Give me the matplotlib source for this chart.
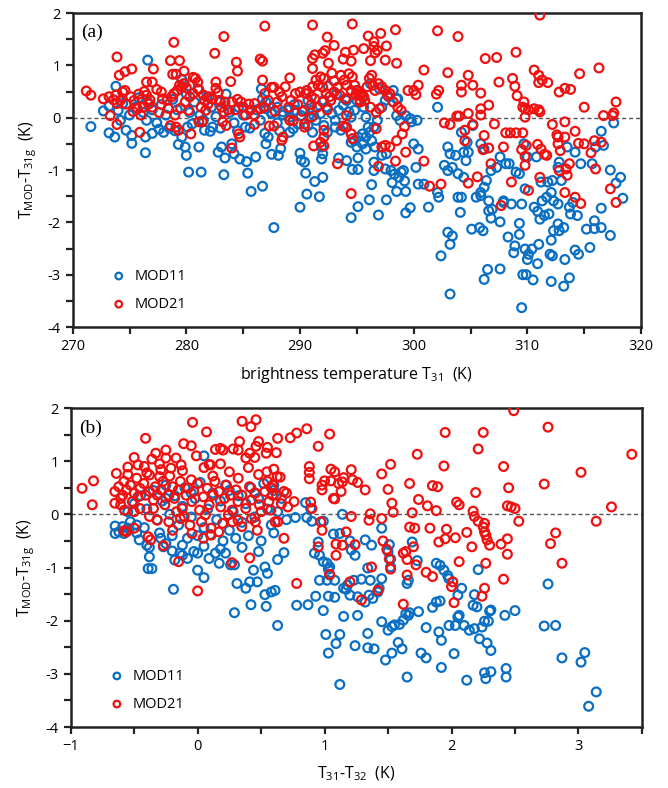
import numpy as np
import matplotlib
matplotlib.use("Agg")
import matplotlib.pyplot as plt

plt.rcParams['font.family'] = ['Open Sans', 'DejaVu Sans']
plt.rcParams['mathtext.fontset'] = 'custom'
plt.rcParams['mathtext.rm'] = 'Open Sans'
plt.rcParams['mathtext.it'] = 'Open Sans'

# ---- panel (a): brightness temperature T31 (K) vs T_MOD - T_31g (K)
a_mod11 = [
    (271.6,-0.17),(272.7,0.13),(273.2,0.22),(273.8,0.60),(274.0,0.14),(274.4,0.27),(273.2,-0.29),(273.7,-0.37),
    (274.7,-0.24),(275.2,-0.34),(275.2,-0.49),(276.4,-0.67),(276.4,-0.37),(276.6,1.10),(274.2,-0.05),(275.0,0.05),
    (275.5,0.20),(275.8,0.38),(276.2,0.10),(276.5,-0.05),(276.6,0.30),(277.0,0.15),(277.4,-0.10),(277.8,0.25),
    (278.2,0.05),(278.5,-0.20),(278.8,0.35),(279.2,0.15),(279.6,0.73),(279.8,0.65),(280.0,0.45),(280.3,0.10),
    (280.7,0.30),(281.0,0.55),(281.2,0.05),(281.5,-0.05),(281.8,0.40),(282.2,0.20),(282.6,0.02),(283.0,0.30),
    (283.5,0.45),(283.8,0.10),(284.2,-0.10),(284.6,0.20),(285.0,0.05),(285.6,-0.20),(286.2,0.15),(286.6,0.55),
    (287.0,0.30),(287.5,0.10),(288.0,-0.10),(288.5,0.05),(289.0,0.15),(289.5,0.25),(277.0,-0.30),(277.6,-0.22),
    (278.0,-0.28),(279.0,-0.25),(279.3,-0.51),(279.9,-0.56),(279.6,-0.37),(280.1,-0.18),(280.5,-0.12),(281.1,-0.56),
    (280.2,-1.04),(281.3,-1.04),(280.0,-0.72),(281.6,-0.24),(282.1,-0.26),(282.3,-0.18),(282.8,-0.66),(283.1,-0.56),
    (283.4,-0.77),(283.3,-1.09),(284.0,-0.50),(284.2,-0.69),(284.7,-0.79),(285.3,-0.84),(286.1,-0.75),(285.4,-1.06),
    (285.7,-1.41),(286.7,-1.31),(287.7,-2.10),(287.0,-0.50),(287.2,-0.37),(287.5,-0.70),(288.1,-0.72),(288.3,-0.59),
    (289.1,-0.28),(289.4,-0.21),(289.8,-0.12),(283.0,-0.20),(284.5,-0.25),(285.2,-0.18),(286.5,-0.05),(286.9,-0.30),
    (288.2,-0.25),
    (290.0,-0.68),(290.1,-0.81),(290.4,-0.85),(290.5,-1.06),(290.0,-1.71),(290.6,-1.46),(291.3,-1.22),(291.7,-1.51),
    (292.0,-1.14),(291.9,-0.79),(292.0,-0.69),(291.9,-0.56),(293.4,-0.77),(294.1,-0.82),(295.1,-0.77),(295.1,-0.99),
    (294.6,-0.99),(294.5,-1.91),(295.1,-1.70),(296.1,-1.57),(296.3,-1.28),(296.5,-1.01),(296.5,-0.85),(296.9,-1.86),
    (297.6,-1.57),(297.5,-0.98),(298.0,-1.01),(298.1,-1.24),(298.3,-1.08),(298.5,-1.41),(298.7,-1.14),(298.9,-1.04),
    (299.1,-1.01),(299.2,-1.21),(299.3,-1.41),(299.3,-1.82),(299.7,-1.72),(298.6,0.36),(300.0,-0.50),(300.4,-0.60),
    (300.2,-0.95),(300.4,-1.27),(300.9,-1.27),(301.3,-1.71),
    (290.7,0.33),(291.1,0.14),(291.2,0.04),(291.4,-0.05),(291.8,0.08),(292.1,0.33),(292.4,0.20),(292.8,0.08),
    (293.1,-0.05),(293.4,0.14),(293.8,0.24),(294.1,0.33),(294.3,0.11),(294.5,0.01),(294.8,0.14),(295.0,0.33),
    (295.1,0.52),(295.5,0.40),(295.6,0.20),(295.8,0.01),(296.0,-0.18),(295.5,-0.31),(295.1,-0.37),(294.8,-0.44),
    (295.8,-0.37),(296.1,-0.28),(296.5,-0.18),(296.8,-0.05),(297.2,0.20),(297.5,0.33),(297.8,0.40),(298.2,0.52),
    (298.5,0.36),(294.1,-0.18),(293.6,-0.24),(293.1,-0.18),(292.4,-0.28),(292.1,-0.15),(291.1,-0.28),(290.7,-0.15),
    (294.5,-0.47),(295.0,-0.56),(295.5,-0.50),(295.8,-0.60),(296.3,-0.44),(296.6,-0.56),(297.2,-0.72),(297.6,-0.69),
    (290.4,0.14),(290.1,0.04),(289.6,0.14),(289.1,0.01),(288.5,0.11),(288.0,0.20),(287.5,0.08),(287.0,0.17),
    (286.7,0.36),(298.5,0.04),(298.8,-0.05),(299.3,0.04),(299.7,-0.02),(299.8,-0.08),(300.3,-0.05),(292.5,0.60),
    (293.2,0.45),(296.2,0.65),(297.0,0.55),
    (302.1,0.20),(303.0,-0.56),(302.7,-0.91),(303.0,-1.01),(303.4,-0.95),(303.2,-0.69),(303.9,-1.07),(304.4,-1.14),
    (304.6,-0.82),(304.2,-1.52),(304.1,-1.81),(303.9,-1.52),(302.1,-1.43),(302.2,-1.52),(303.0,-2.19),(303.4,-2.26),
    (303.2,-2.42),(302.4,-2.64),(303.2,-3.37),(304.2,-0.28),(304.8,-0.66),(305.2,-0.15),(304.7,-0.47),(305.9,-0.50),
    (306.2,-0.60),(306.8,-1.01),(306.4,-1.20),(306.2,-1.33),(305.9,-1.43),(305.5,-1.52),(306.6,-1.78),(306.9,-1.75),
    (306.8,-1.92),(307.6,-1.99),(307.9,-1.62),(307.3,-0.95),(307.6,-0.75),(308.1,-0.88),(305.1,-2.13),(305.8,-2.10),
    (306.1,-2.16),(306.5,-2.90),(306.2,-3.09),(307.6,-2.89),(308.3,-2.28),(308.9,-2.45),(308.8,-2.58),(309.3,-2.23),
    (309.3,-2.02),(309.5,-1.65),(309.0,-1.04),(309.7,-0.50),(310.0,-0.75),(310.8,-0.75),(309.8,-2.51),(310.1,-2.61),
    (310.0,-2.71),(310.4,-2.51),(309.6,-3.00),(309.9,-3.00),(310.5,-3.10),(309.5,-3.63),(310.9,-2.79),(311.0,-2.42),
    (310.6,-1.71),(311.1,-1.94),(310.9,-1.79),(311.2,-1.23),(311.3,-1.59),(311.7,-1.52),(311.8,-1.23),(312.2,-1.20),
    (312.1,-1.43),(311.9,-1.84),(311.5,-1.87),(312.3,-1.59),(312.7,-1.65),(312.8,-0.85),(312.7,-0.95),(313.0,-1.20),
    (312.1,-2.34),(312.3,-2.16),(312.7,-2.03),(312.8,-2.16),(313.2,-2.10),(312.2,-2.64),(312.0,-2.61),(313.3,-2.71),
    (313.7,-3.06),(313.2,-3.22),(312.1,-3.13),(313.7,-1.71),(314.0,-1.62),(313.8,-1.84),(314.4,-1.87),(314.2,-2.53),
    (314.5,-2.61),(315.2,-2.13),(315.9,-1.97),(315.5,-2.48),(315.9,-2.12),(316.5,-2.10),(317.3,-2.25),(316.5,-1.73),
    (313.5,-0.56),(314.2,-0.66),(314.7,-0.88),(316.0,-0.56),(315.7,-0.88),(316.7,-0.53),(316.5,-0.26),(317.6,-0.10),
    (317.3,-1.00),(318.2,-1.14),(317.8,-1.25),(318.4,-1.54),(308.4,-0.88),(309.3,-1.07),(309.8,-1.36),(307.9,-1.59),
    (308.6,-1.65),(306.6,-1.59),(305.9,-1.49),(304.4,-0.66),(303.7,-0.72),
]

a_mod21 = [
    (311.1,1.96),(286.9,1.75),(291.1,1.77),(294.6,1.79),(302.1,1.66),(303.9,1.55),(298.4,1.68),(297.1,1.61),
    (296.0,1.56),(292.4,1.54),(283.3,1.55),(278.9,1.44),(293.0,1.38),(296.5,1.45),(296.5,1.36),(297.6,1.37),
    (296.6,1.24),(296.8,1.29),(295.6,1.32),(294.7,1.29),(294.0,1.25),(292.2,1.28),(292.0,1.23),(291.3,1.20),
    (291.1,1.13),(282.5,1.23),(309.0,1.25),(306.3,1.13),(307.3,1.15),(273.9,1.16),(278.6,1.09),(279.4,1.09),
    (284.4,1.06),(286.7,1.08),(286.5,1.12),(294.5,1.08),(293.8,1.12),(296.2,1.09),(297.5,1.10),(298.5,1.04),
    (292.5,1.04),(291.1,0.94),(275.2,0.93),(274.6,0.88),(274.1,0.81),(277.1,0.93),(278.8,0.83),(279.1,0.83),
    (279.8,0.89),(284.5,0.89),(300.9,0.91),(303.0,0.86),(310.6,0.91),(311.0,0.81),(311.3,0.72),(311.8,0.67),
    (311.0,0.67),(316.3,0.95),(314.6,0.84),(308.7,0.75),(308.9,0.60),(309.1,0.42),(307.5,0.68),(304.8,0.81),
    (304.2,0.62),(305.2,0.62),(304.2,0.49),(305.9,0.47),(312.8,0.49),(313.3,0.56),(313.8,0.54),(315.0,0.20),
    (317.8,0.30),(316.7,0.04),(317.5,0.04),(317.6,0.09),(309.6,0.20),(309.8,0.17),(310.1,0.15),(311.0,0.15),
    (311.1,0.11),(310.6,0.17),(309.7,0.30),(309.8,0.01),(302.2,0.52),(302.0,0.45),(300.4,0.62),(300.0,0.52),
    (300.2,0.44),(299.5,0.52),(305.9,0.17),(306.6,0.24),(304.8,0.08),(305.9,0.05),(303.8,0.03),(304.0,0.03),
    (302.7,-0.10),(303.2,-0.13),(305.2,-0.13),(307.1,-0.12),(304.5,-0.24),(308.1,-0.29),(308.5,-0.29),(309.0,-0.29),
    (309.6,-0.29),(306.2,-0.34),(312.2,-0.13),(313.3,-0.08),(312.6,-0.33),(312.7,-0.37),(313.3,-0.37),(314.2,-0.26),
    (315.9,-0.44),(316.5,-0.47),(314.5,-0.49),(315.0,-0.50),(315.6,-0.67),(310.9,-0.51),(311.2,-0.60),(311.5,-0.70),
    (311.7,-0.72),(312.7,-0.50),(312.9,-0.63),(309.9,-0.53),(309.8,-0.74),(309.5,-0.61),(307.9,-0.56),(306.6,-0.58),
    (306.1,-0.61),(304.5,-0.44),(306.8,-0.88),(309.8,-0.91),(312.8,-1.01),(313.4,-0.98),(313.7,-0.88),(313.5,-1.10),
    (316.0,-0.98),(311.1,-1.14),(308.6,-1.23),(305.6,-1.13),(304.8,-1.25),(310.1,-1.39),(313.3,-1.43),(314.2,-1.52),
    (314.7,-1.64),(317.3,-1.36),(317.8,-1.62),(307.7,-1.68),(302.4,-1.27),(301.4,-1.31),(300.9,-0.83),(299.3,-0.66),
    (299.2,-0.17),(299.0,-0.31),(298.5,-0.44),(298.4,-0.83),(297.5,-0.53),(297.2,-0.56),(297.9,-0.56),(296.9,-0.93),
    (296.7,-0.21),(294.5,-1.45),(293.3,-0.88),(294.0,-0.18),(293.8,-0.16),(294.5,-0.31),(294.6,-0.40),(292.1,-0.24),
    (292.1,-0.37),(291.8,-0.47),(291.2,-0.54),(292.1,-0.54),(290.4,-0.12),(290.4,-0.18),(288.5,-0.37),(288.4,-0.43),
    (287.3,-0.16),(287.7,-0.16),(286.0,-0.13),(284.6,-0.31),(284.7,-0.37),(284.0,-0.58),(283.5,-0.15),(283.2,-0.08),
    (280.4,-0.31),(279.1,-0.18),(279.3,-0.24),(278.6,-0.15),(275.9,-0.28),(273.9,-0.13),(281.1,-0.08),(281.4,-0.08),
    (289.1,-0.05),(289.4,-0.06),
    (271.2,0.51),(271.6,0.43),(272.7,0.36),(273.2,0.40),(273.3,0.04),(273.8,0.43),(273.9,0.27),(274.4,0.49),
    (274.6,0.52),(275.1,0.40),(275.4,0.33),(275.7,0.17),(275.8,0.45),(276.1,0.36),(276.3,0.50),(276.5,0.43),
    (276.7,0.26),(276.2,0.20),(277.0,0.68),(276.5,0.68),(276.8,0.34),(277.4,0.54),(277.8,0.49),(277.9,0.36),
    (278.3,0.33),(278.7,0.40),(278.9,0.46),(279.2,0.52),(279.6,0.59),(279.4,0.62),(279.8,0.65),(280.0,0.57),
    (279.9,0.30),(280.3,0.40),(280.6,0.46),(280.8,0.75),(281.0,0.68),(280.6,0.77),(281.1,0.54),(281.6,0.33),
    (281.7,0.14),(281.5,0.43),(282.0,0.40),(282.3,0.36),(282.6,0.68),(282.6,0.56),(282.9,0.33),(283.1,0.20),
    (283.3,0.11),(283.7,0.15),(283.9,0.69),(284.0,0.30),(284.5,0.35),(284.8,0.30),(285.0,0.20),(285.5,0.26),
    (285.6,0.14),(286.0,0.27),(286.5,0.17),(286.7,0.72),(286.9,0.46),(287.2,0.33),(287.5,0.58),(287.7,0.58),
    (288.2,0.49),(288.4,0.40),(288.7,0.59),(289.1,0.76),(289.2,0.33),(289.6,0.46),(290.0,0.49),(290.5,0.46),
    (290.6,0.52),(291.0,0.40),(291.3,0.36),(291.1,0.59),(291.4,0.72),(291.8,0.78),(292.1,0.75),(291.6,0.62),
    (292.0,0.58),(292.3,0.46),(292.6,0.40),(292.0,0.30),(291.5,0.20),(291.0,0.25),(292.8,0.85),(293.0,0.70),
    (293.3,0.58),(293.6,0.81),(293.9,0.72),(294.1,0.62),(294.3,0.84),(294.6,0.78),(294.8,0.62),(295.0,0.52),
    (295.2,0.43),(295.4,0.46),(295.6,0.40),(295.9,0.59),(296.1,0.75),(296.3,0.81),(296.4,0.62),(296.6,0.52),
    (296.9,0.65),(297.2,0.59),(297.5,0.52),(297.7,0.43),(297.9,0.46),(298.2,0.30),(298.6,0.20),(298.9,0.14),
    (294.5,0.52),(294.9,0.43),(295.3,0.33),(294.0,0.36),(293.5,0.43),(293.0,0.49),(292.7,0.33),(295.3,0.30),
    (295.7,0.33),(296.2,0.20),(296.7,0.10),(297.0,0.17),(294.1,0.04),(292.4,0.15),(291.0,0.01),(290.2,0.12),
    (289.8,0.25),(289.0,0.20),(288.0,0.30),(287.8,0.12),(286.8,0.20),(286.0,0.05),(285.2,0.05),(284.3,0.15),
    (283.4,0.30),(282.8,0.48),(281.9,0.26),(281.3,0.20),(280.2,0.14),(279.5,0.18),(279.0,0.05),(278.4,0.18),
    (277.6,0.10),(277.0,0.20),(276.0,0.05),(275.3,0.12),(274.7,0.26),(274.2,0.33),(273.6,0.34),
]

# ---- panel (b): T31 - T32 (K) vs T_MOD - T_31g (K)
b_mod11 = [
    (-0.65,-0.22),(-0.65,-0.36),(-0.62,-0.33),(-0.59,-0.23),(-0.58,-0.36),(-0.55,-0.26),(-0.53,-0.14),(-0.48,-0.20),
    (-0.46,-0.48),(-0.40,-0.58),(-0.38,-0.80),(-0.39,-1.02),(-0.36,-1.02),(-0.29,-0.45),(-0.27,-0.61),(-0.20,-0.69),
    (-0.18,-0.86),(-0.14,-0.73),(-0.12,-0.77),(-0.08,-0.83),(-0.19,-1.41),(-0.03,-0.70),(0.00,-1.05),(0.05,-1.19),
    (0.00,-0.73),(0.09,-0.83),(0.14,-0.73),(0.17,-0.92),(0.22,-0.73),(0.26,-0.95),(0.29,-0.95),(0.29,-1.85),
    (0.31,-1.30),(0.38,-1.39),(0.41,-1.27),(0.42,-1.70),(0.44,-1.05),(0.47,-1.27),(0.53,-0.99),(0.55,-1.11),
    (0.53,-1.51),(0.54,-1.73),(0.58,-1.46),(0.61,-1.43),(0.63,-2.09),(0.63,-0.85),(0.68,-0.72),
    (-0.55,0.05),(-0.50,0.20),(-0.45,0.35),(-0.40,0.10),(-0.35,0.45),(-0.32,-0.10),(-0.28,0.25),(-0.25,0.55),
    (-0.22,0.00),(-0.18,0.35),(-0.15,-0.20),(-0.12,0.15),(-0.10,0.50),(-0.05,-0.05),(-0.02,0.30),(0.02,0.60),
    (0.05,-0.25),(0.08,0.10),(0.12,0.40),(0.15,-0.10),(0.18,0.25),(0.22,0.55),(0.25,-0.30),(0.28,0.05),
    (0.32,0.35),(0.35,-0.15),(0.38,0.20),(0.42,0.50),(0.45,-0.05),(0.48,0.30),(0.52,0.58),(0.55,0.10),
    (0.58,-0.20),(0.60,0.45),(0.63,0.05),(0.66,0.30),(0.70,-0.10),(-0.48,-0.35),(-0.42,-0.25),(-0.30,-0.35),
    (-0.20,-0.40),(-0.08,-0.45),(0.00,-0.40),(0.10,-0.38),(0.20,-0.50),(0.30,-0.45),(0.40,-0.40),(0.50,-0.50),
    (0.60,-0.35),(-0.38,-0.62),(-0.25,-0.55),(-0.12,-0.58),(0.05,-0.60),(0.18,-0.65),(0.35,-0.62),(0.48,-0.70),
    (-0.25,0.30),(-0.05,0.40),(0.25,0.45),(0.45,0.40),(0.60,0.55),
    (0.05,1.10),(1.14,0.00),(0.89,0.11),(0.85,0.22),(0.77,-0.06),(0.86,-0.06),(0.90,-0.13),(0.99,-0.13),
    (0.95,-0.52),(0.92,-0.73),(0.96,-0.77),(0.99,-0.89),(1.02,-0.92),(1.03,-1.03),(1.04,-0.99),(1.04,-1.14),
    (1.07,-0.37),(1.12,-0.36),(1.20,-0.50),(1.21,-0.67),(1.24,-0.77),(1.32,-0.48),(1.37,-0.58),(1.45,-0.26),
    (1.51,-0.57),(1.50,-0.70),(1.52,-0.84),(1.52,-0.99),(1.34,-1.01),(1.36,-1.24),(1.45,-1.21),(1.43,-1.39),
    (0.96,-1.24),(1.02,-1.24),(1.08,-1.24),(1.15,-1.39),(1.17,-1.41),(1.18,-1.33),(1.23,-1.24),(1.29,-1.22),
    (1.20,-1.52),(1.26,-1.55),(1.32,-1.65),(1.35,-1.52),(1.38,-1.58),(1.42,-1.46),
    (0.78,-1.71),(0.87,-1.70),(0.93,-1.54),(0.99,-1.81),(1.03,-1.54),(1.08,-1.56),
    (1.01,-2.26),(1.12,-2.26),(1.09,-2.43),(1.03,-2.61),(1.15,-1.92),(1.26,-1.90),(1.24,-2.47),(1.12,-3.20),
    (1.34,-2.24),(1.34,-2.51),(1.39,-2.53),(1.45,-2.02),(1.50,-2.18),(1.53,-2.11),(1.55,-2.08),(1.59,-2.07),
    (1.62,-1.99),(1.66,-1.90),(1.67,-1.85),(1.48,-2.74),(1.53,-2.61),(1.58,-2.41),(1.61,-2.53),(1.65,-3.06),
    (1.76,-2.61),(1.80,-2.70),(1.80,-2.13),(1.74,-1.83),(1.85,-1.75),(1.88,-1.65),(1.91,-1.63),(1.90,-2.21),
    (1.92,-2.37),(1.92,-2.88),(1.98,-2.09),(2.03,-2.09),(2.05,-1.93),(2.06,-1.90),(2.10,-2.09),(2.14,-2.18),
    (2.18,-2.15),(2.22,-2.34),(2.24,-2.12),(2.26,-2.01),(2.29,-2.01),(2.30,-1.82),(2.28,-2.42),(2.31,-2.56),
    (2.02,-2.62),(2.12,-3.12),(2.26,-2.98),(2.27,-3.09),(2.31,-2.96),(2.42,-1.90),(2.50,-1.81),(2.43,-2.90),
    (2.43,-3.06),(2.73,-2.10),(2.82,-2.09),(2.76,-1.31),(2.87,-2.70),(3.02,-2.78),(3.05,-2.60),(3.14,-3.34),
    (3.08,-3.61),(2.21,-1.04),(1.88,-0.92),(1.91,-0.96),(1.94,-1.05),(1.97,-1.15),(1.98,-1.21),(2.05,-1.52),
    (2.08,-1.39),(2.18,-1.51),(2.17,-1.71),(2.20,-1.74),(1.73,-0.87),(1.69,-0.52),(1.66,-1.24),(1.65,-1.30),
    (1.64,-1.87),(2.31,-1.80),
]

b_mod21 = [
    (2.49,1.95),(2.76,1.64),(3.42,1.13),(3.02,0.79),(2.73,0.57),(3.26,0.14),(3.14,-0.13),(2.82,-0.35),
    (2.78,-0.55),(2.87,-0.92),(1.95,1.54),(2.25,1.54),(2.21,1.23),(1.73,1.13),(1.94,0.91),(2.41,0.90),
    (1.52,0.94),(1.45,0.76),(1.67,0.58),(1.50,0.47),(1.85,0.54),(1.89,0.52),(1.74,0.28),(1.81,0.16),
    (1.88,0.07),(1.53,0.21),(1.54,0.04),(1.69,0.03),(2.04,0.23),(2.06,0.18),(2.19,0.41),(2.45,0.50),
    (2.44,0.16),(2.47,0.14),(2.50,0.11),(2.17,0.06),(2.18,-0.04),(2.21,-0.13),(2.26,-0.17),(2.53,-0.13),
    (2.25,-0.24),(2.26,-0.33),(2.27,-0.39),(2.28,-0.48),(2.30,-0.58),(2.16,-0.61),(2.27,-0.92),(2.26,-1.39),
    (2.24,-1.54),(2.41,-1.22),(2.39,-0.56),(2.44,-0.46),(2.44,-0.75),(2.06,-0.89),(2.01,-1.27),(2.00,-1.36),
    (2.02,-1.66),(2.12,-0.34),(2.03,-0.44),(1.95,-0.46),(1.90,-0.52),(1.96,-0.28),(1.83,-0.26),(1.67,-0.24),
    (1.71,-0.26),(1.70,-0.61),(1.65,-0.85),(1.62,-0.73),(1.64,-0.70),(1.72,-0.95),(1.65,-1.14),(1.80,-1.09),
    (1.85,-1.17),(1.62,-1.69),(1.42,-1.43),(1.52,-1.03),(1.51,-0.84),(1.49,-0.66),(1.46,-0.50),(1.45,-0.08),
    (1.36,0.01),(1.35,-0.11),(1.21,-0.04),(1.17,-0.33),(1.24,-0.57),(1.14,-0.58),(1.09,-0.56),(1.09,-0.77),
    (1.37,-0.99),(1.29,-1.61),(1.20,-1.27),(1.04,-1.13),(0.78,-1.30),(0.98,-0.30),(0.97,-0.14),(0.95,-0.61),
    (0.68,-0.45),(0.63,-0.14),(0.41,-0.82),(0.27,-0.91),(0.00,-1.44),(-0.15,-0.89),(-0.39,-0.42),(-0.37,-0.48),
    (-0.27,-0.59),(-0.58,-0.31),(-0.50,-0.26),(-0.91,0.49),(-0.82,0.63),(-0.83,0.18),(-0.41,1.43),(-0.04,1.73),
    (0.07,1.55),(0.35,1.75),(0.42,1.65),(0.46,1.78),(0.78,1.53),(0.86,1.61),(0.73,1.44),(0.63,1.43),
    (1.04,1.51),(0.95,1.28),(0.62,1.16),(0.88,0.90),(0.88,0.79),(0.88,0.67),(1.05,0.85),(1.08,0.80),
    (1.05,0.63),(1.00,0.63),(0.98,0.55),(0.98,0.46),(1.11,0.58),(1.14,0.61),(1.15,0.69),(1.13,0.43),
    (1.07,0.30),(1.08,0.29),(1.21,0.84),(1.22,0.65),(1.26,0.60),(1.32,0.46),(0.76,0.24),(0.89,0.23),
    (0.90,0.11),
    (0.55,1.26),(0.54,1.15),(0.48,1.37),(0.46,1.28),(0.33,1.37),(0.41,1.15),(0.38,1.06),(0.45,1.07),
    (0.32,1.21),(0.28,1.23),(0.18,1.24),(0.20,1.21),(0.14,1.22),(0.10,0.93),(0.09,0.94),(-0.01,1.10),
    (-0.05,1.29),(-0.11,1.33),(-0.25,1.21),(-0.33,1.15),(-0.36,1.04),(-0.50,1.07),(-0.42,0.90),(-0.47,0.93),
    (-0.55,0.89),(-0.64,0.77),(-0.25,1.06),(-0.17,1.06),(-0.13,0.93),(-0.21,0.87),(-0.29,0.84),(-0.30,0.71),
    (-0.38,0.74),(-0.58,0.62),
    (-0.652,0.43),(-0.621,0.52),(-0.606,0.30),(-0.591,0.36),(-0.561,0.46),(-0.530,0.55),(-0.515,0.24),(-0.500,0.40),
    (-0.470,0.33),(-0.455,0.49),(-0.424,0.58),(-0.409,0.36),(-0.379,0.43),(-0.348,0.27),(-0.333,0.52),(-0.318,0.36),
    (-0.288,0.46),(-0.273,0.62),(-0.258,0.18),(-0.227,0.36),(-0.197,0.52),(-0.182,0.30),(-0.152,0.46),(-0.136,0.62),
    (-0.121,0.11),(-0.091,0.36),(-0.076,0.49),(-0.045,0.24),(-0.030,0.43),(0.000,0.58),(0.015,0.08),(0.045,0.33),
    (0.076,0.49),(0.091,0.18),(0.121,0.36),(0.136,0.62),(0.167,0.43),(0.182,0.14),(0.212,0.30),(0.227,0.55),
    (0.258,0.36),(0.273,0.08),(0.303,0.46),(0.318,0.24),(0.348,0.36),(0.379,0.11),(0.409,0.52),(0.424,0.27),
    (0.455,0.40),(0.485,0.18),(0.530,0.43),(0.561,0.24),(0.591,0.55),(0.621,0.36),(-0.652,0.21),(-0.576,0.08),
    (-0.500,0.05),(-0.379,-0.04),(-0.318,-0.11),(-0.227,-0.14),(-0.136,-0.08),(-0.061,-0.20),(0.030,-0.14),(0.106,-0.26),
    (0.197,-0.17),(0.273,-0.14),(0.348,-0.23),(0.424,-0.08),(0.500,0.05),(0.576,0.08),(-0.561,-0.33),(-0.606,0.18),
    (-0.455,0.11),(-0.348,0.11),(-0.167,0.05),(-0.106,-0.04),(0.061,-0.01),(0.242,-0.01),(0.318,-0.11),(0.455,-0.14),
    (0.470,-0.30),(0.106,-0.39),(0.167,-0.33),(0.045,-0.45),(-0.045,-0.36),(-0.197,-0.30),
    (-0.55,0.75),(-0.48,0.68),(-0.40,0.78),(-0.30,0.95),(-0.22,0.72),(-0.12,0.82),(-0.05,0.65),(0.05,0.88),
    (0.12,0.72),(0.18,0.95),(0.25,0.80),(0.32,0.68),(0.40,0.88),(0.48,0.75),(0.55,0.62),(0.60,0.85),
    (0.65,0.70),(0.58,0.50),(0.70,0.40),(0.66,0.20),(0.627,0.71),(0.59,0.36),(0.68,0.43),(0.71,0.14),
    (0.545,0.80),(0.61,-0.14),
]

BLUE = '#0a6fc2'
RED = '#f01010'


def style_axes(ax, xlim, xmajor, xminor, xlabel):
    ax.set_xlim(*xlim)
    ax.set_ylim(-4, 2)
    ax.set_xticks(xmajor)
    ax.set_xticks(xminor, minor=True)
    ax.set_yticks(np.arange(-4, 2.1, 1))
    ax.set_yticks(np.arange(-4, 2.1, 0.5), minor=True)
    ax.set_yticklabels([f'{v:g}' for v in np.arange(-4, 2.1, 1)])
    ax.tick_params(which='both', direction='out', width=1.6, color='#222222',
                   labelsize=10.5, top=False, right=False)
    ax.tick_params(which='major', length=5)
    ax.tick_params(which='minor', length=5)
    for s in ax.spines.values():
        s.set_linewidth(1.8)
        s.set_color('#222222')
    ax.axhline(0, color='#555555', linestyle=(0, (3, 2)), linewidth=1.0, zorder=1)
    ax.set_xlabel(xlabel, fontsize=11.5, labelpad=8)
    ax.set_ylabel(r'T$_{\mathrm{MOD}}$-T$_{\mathrm{31g}}$  (K)', fontsize=11.5, labelpad=6)


def draw(ax, m11, m21, tag):
    m11 = np.array(m11)
    m21 = np.array(m21)
    ax.scatter(m11[:, 0], m11[:, 1], s=40, facecolors='none', edgecolors=BLUE,
               linewidths=1.6, label='MOD11', zorder=2)
    ax.scatter(m21[:, 0], m21[:, 1], s=40, facecolors='none', edgecolors=RED,
               linewidths=1.6, label='MOD21', zorder=3)
    ax.text(0.015, 0.965, tag, transform=ax.transAxes, ha='left', va='top',
            fontsize=14, family='Liberation Serif')
    ax.legend(loc='lower left', bbox_to_anchor=(0.04, 0.02), frameon=False,
              fontsize=10.5, handletextpad=0.1, labelspacing=0.9,
              scatterpoints=1, borderaxespad=0.2, markerscale=0.75)


fig = plt.figure(figsize=(6.68, 7.88), dpi=100)
ax1 = fig.add_axes([0.1088, 0.585, 0.8508, 0.3985])
ax2 = fig.add_axes([0.1058, 0.0774, 0.8552, 0.4048])

draw(ax1, a_mod11, a_mod21, '(a)')
style_axes(ax1, (270, 320), np.arange(270, 321, 10), np.arange(270, 321, 5),
           r'brightness temperature T$_{31}$  (K)')

draw(ax2, b_mod11, b_mod21, '(b)')
style_axes(ax2, (-1, 3.5), np.arange(-1, 3.1, 1), np.arange(-1, 3.51, 0.5),
           r'T$_{31}$-T$_{32}$  (K)')

fig.savefig('out.png', dpi=100)
